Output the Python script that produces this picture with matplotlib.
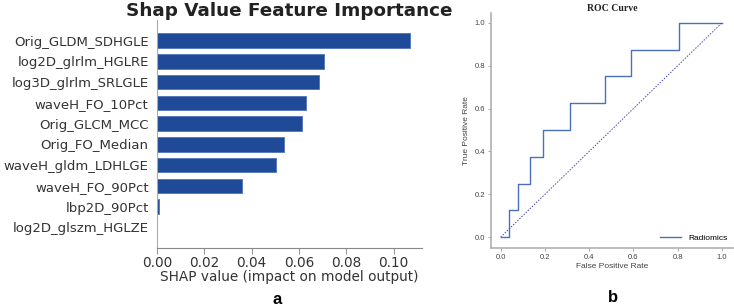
import matplotlib
matplotlib.use("Agg")
import matplotlib.pyplot as plt

# ---------------- data ----------------
features = ["Orig_GLDM_SDHGLE", "log2D_glrlm_HGLRE", "log3D_glrlm_SRLGLE",
            "waveH_FO_10Pct", "Orig_GLCM_MCC", "Orig_FO_Median",
            "waveH_gldm_LDHLGE", "waveH_FO_90Pct", "lbp2D_90Pct",
            "log2D_glszm_HGLZE"]
shap_vals = [0.1068, 0.0708, 0.0686, 0.0628, 0.0615, 0.0535,
             0.0501, 0.0359, 0.0008, 0.0]
shap_ticks = [0.00, 0.02, 0.04, 0.06, 0.08, 0.10]

fpr = [0.0, 0.038, 0.038, 0.077, 0.077, 0.135, 0.135, 0.192, 0.192,
       0.313, 0.313, 0.471, 0.471, 0.587, 0.587, 0.804, 0.804, 1.0]
tpr = [0.0, 0.0, 0.125, 0.125, 0.25, 0.25, 0.375, 0.375, 0.5,
       0.5, 0.625, 0.625, 0.75, 0.75, 0.875, 0.875, 1.0, 1.0]
roc_ticks = [0.0, 0.2, 0.4, 0.6, 0.8, 1.0]

fig = plt.figure(figsize=(7.34, 3.07), dpi=100)

# ---------------- (a) SHAP bar plot ----------------
ax1 = fig.add_axes([0.2139, 0.1922, 0.3613, 0.7427])
n = len(features)
ypos = list(range(n - 1, -1, -1))
ax1.barh(ypos, shap_vals, height=0.7, color="#1e4a98",
         edgecolor="#4f74b8", linewidth=0.6)
ax1.set_yticks(ypos)
ax1.set_yticklabels(features, fontsize=9.5, color="#333333")
ax1.set_ylim(-1, n)
ax1.set_xlim(0, 0.1121)
ax1.set_xticks(shap_ticks)
ax1.set_xticklabels([f"{t:.2f}" for t in shap_ticks], fontsize=9.8, color="#333333")
ax1.tick_params(axis="y", length=0, pad=6)
ax1.tick_params(axis="x", color="#999999", length=4, pad=2)
ax1.spines["top"].set_visible(False)
ax1.spines["right"].set_visible(False)
ax1.spines["left"].set_color("#aaaaaa")
ax1.spines["bottom"].set_color("#888888")
ax1.set_xlabel("SHAP value (impact on model output)", fontsize=9.8,
               color="#333333", labelpad=0)
ax1.set_title("Shap Value Feature Importance", fontsize=13.2,
              fontweight="bold", color="#222222", pad=3)

# ---------------- (b) ROC curve ----------------
ax2 = fig.add_axes([0.669, 0.1922, 0.3297, 0.765])
ax2.plot(fpr, tpr, color="#4a70b8", linewidth=1.0, label="Radiomics")
ax2.plot([0, 1], [0, 1], color="#4848b0", linewidth=0.7, linestyle=(0, (1.5, 1.5)))
ax2.set_xlim(-0.043, 1.05)
ax2.set_ylim(-0.05, 1.045)
ax2.set_xticks(roc_ticks)
ax2.set_yticks(roc_ticks)
ax2.set_xticklabels([f"{t:.1f}" for t in roc_ticks], fontsize=5.5,
                    color="#444444", family="Liberation Sans")
ax2.set_yticklabels([f"{t:.1f}" for t in roc_ticks], fontsize=5.5,
                    color="#444444", family="Liberation Sans")
ax2.tick_params(color="#999999", length=2.5, width=0.6, pad=2)
for s in ["top", "right"]:
    ax2.spines[s].set_visible(False)
for s in ["left", "bottom"]:
    ax2.spines[s].set_color("#b0b0b0")
    ax2.spines[s].set_linewidth(1.2)
ax2.set_xlabel("False Positive Rate", fontsize=6, color="#444444",
               family="Liberation Sans", labelpad=1)
ax2.set_ylabel("True Positive Rate", fontsize=6, color="#444444",
               family="Liberation Sans", labelpad=3)
ax2.set_title("ROC Curve", fontsize=7, fontweight="bold",
              family="Liberation Serif", color="#222222", pad=1)
ax2.legend(loc="lower right", frameon=False,
           prop={"family": "Liberation Sans", "size": 6}, handlelength=2.5,
           borderaxespad=0.3)

# panel letters
fig.text(277 / 734, 1 - 300 / 307, "a", fontsize=12, fontweight="bold",
         ha="center", va="center", family="Liberation Sans")
fig.text(613 / 734, 1 - 298 / 307, "b", fontsize=12, fontweight="bold",
         ha="center", va="center", family="Liberation Sans")

fig.savefig("out.png", dpi=100)
